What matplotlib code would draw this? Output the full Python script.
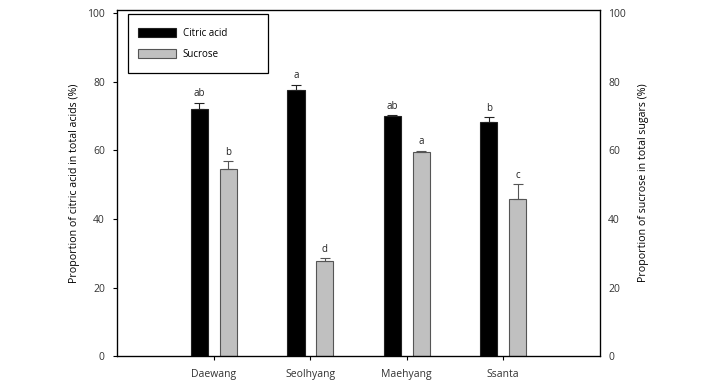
import numpy as np
import matplotlib.pyplot as plt
from matplotlib.patches import Patch, Rectangle

plt.rcParams['font.family'] = ['Open Sans', 'DejaVu Sans']

cultivars = ['Daewang', 'Seolhyang', 'Maehyang', 'Ssanta']
citric = [72.2, 77.5, 70.0, 68.2]
citric_err = [1.7, 1.6, 0.2, 1.4]
citric_letters = ['ab', 'a', 'ab', 'b']
sucrose = [54.7, 27.9, 59.4, 45.7]
sucrose_err = [2.1, 0.6, 0.5, 4.5]
sucrose_letters = ['b', 'd', 'a', 'c']

x = np.arange(1, len(cultivars) + 1)
w = 0.18

fig = plt.figure(figsize=(7.2, 3.82), dpi=100)
ax = fig.add_axes([0.163, 0.0673, 0.670, 0.9073])

ax.bar(x - 0.15, citric, w, color='black', edgecolor='#222222', linewidth=0.8,
       yerr=[np.zeros(4), citric_err], error_kw=dict(ecolor='#222222', capsize=3.5, elinewidth=0.8, capthick=0.8))
ax.bar(x + 0.15, sucrose, w, color='#c0c0c0', edgecolor='#555555', linewidth=0.8,
       yerr=[np.zeros(4), sucrose_err], error_kw=dict(ecolor='#555555', capsize=3.5, elinewidth=0.8, capthick=0.8))

# letras de significancia
for xi, v, e, t in zip(x - 0.15, citric, citric_err, citric_letters):
    ax.text(xi, v + e + 1.0, t, ha='center', va='bottom', fontsize=7, color='#222222')
for xi, v, e, t in zip(x + 0.15, sucrose, sucrose_err, sucrose_letters):
    ax.text(xi, v + e + 1.0, t, ha='center', va='bottom', fontsize=7, color='#222222')

ax.set_xlim(0, 5)
ax.set_ylim(0, 101)
ax.set_yticks([0, 20, 40, 60, 80, 100])
ax.set_xticks(x)
ax.set_xticklabels(cultivars)
ax.tick_params(axis='both', labelsize=7.5, labelcolor='#333333', direction='out', length=3, width=0.8)
ax.tick_params(axis='x', pad=6)
ax.tick_params(axis='y', pad=6)
ax.set_ylabel('Proportion of citric acid in total acids (%)', fontsize=7.7, labelpad=5)
for s in ax.spines.values():
    s.set_linewidth(0.9)

ax2 = ax.twinx()
ax2.set_ylim(0, 101)
ax2.set_yticks([0, 20, 40, 60, 80, 100])
ax2.tick_params(axis='y', labelsize=7.5, labelcolor='#333333', length=0, pad=6)
ax2.set_ylabel('Proportion of sucrose in total sugars (%)', fontsize=7.7, labelpad=9)

# leyenda con marco propio
ax.add_patch(Rectangle((0.0218, 0.8174), 0.2902, 0.1702, transform=ax.transAxes,
                       fill=False, edgecolor='black', linewidth=0.9, zorder=5))
handles = [Patch(facecolor='black', edgecolor='#222222', linewidth=0.8),
           Patch(facecolor='#c0c0c0', edgecolor='#555555', linewidth=0.8)]
ax.legend(handles, ['Citric acid', 'Sucrose'], loc='upper left',
          bbox_to_anchor=(0.0425, 0.947), fontsize=7, frameon=False,
          handlelength=3.9, handleheight=1.0, labelspacing=1.0,
          borderpad=0, handletextpad=0.7, borderaxespad=0)

plt.savefig('out.png', dpi=100)
